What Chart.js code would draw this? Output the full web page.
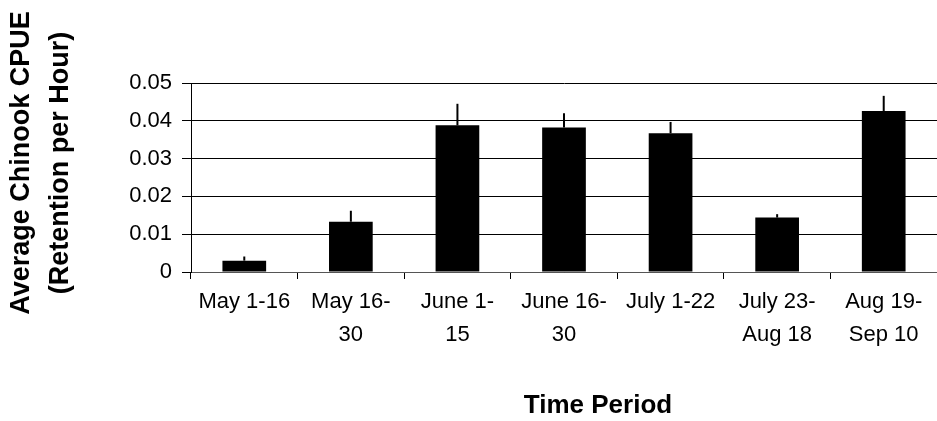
<!DOCTYPE html>
<html>
<head>
<meta charset="utf-8">
<script src="https://cdn.jsdelivr.net/npm/chart.js@4/dist/chart.umd.min.js"></script>
<style>
  body { margin: 0; background: #fff; }
  canvas { display: block; }
</style>
</head>
<body>
<canvas id="chart" width="937" height="421"></canvas>
<script>
// time periods (two-line labels as in the original)
const periods = [["May 1-16"], ["May 16-", "30"], ["June 1-", "15"], ["June 16-", "30"], ["July 1-22"], ["July 23-", "Aug 18"], ["Aug 19-", "Sep 10"]];
const cpue = [0.0030, 0.0133, 0.0388, 0.0382, 0.0367, 0.0144, 0.0426];
const errUp = [0.0011, 0.0029, 0.0057, 0.0038, 0.0030, 0.0009, 0.0040];

const yTitle = ["Average Chinook CPUE", "(Retention per Hour)"];
const xTitle = "Time Period";

const FONT = "'Liberation Sans', Arial, sans-serif";

// upward error bars, no caps
const errorBars = {
    id: 'errorBars',
    afterDatasetsDraw(chart) {
        var ctx = chart.ctx;
        var meta = chart.getDatasetMeta(0);
        var y = chart.scales.y;
        ctx.save();
        ctx.strokeStyle = '#000';
        ctx.lineWidth = 2;
        meta.data.forEach(function (bar, i) {
            var top = y.getPixelForValue(cpue[i] + errUp[i]);
            ctx.beginPath();
            ctx.moveTo(bar.x, bar.y);
            ctx.lineTo(bar.x, top);
            ctx.stroke();
        });
        ctx.restore();
    }
};

// axis titles placed like the original
const titles = {
    id: 'titles',
    afterDraw(chart) {
        var ctx = chart.ctx;
        ctx.save();
        ctx.fillStyle = '#000';
        ctx.font = "bold 26px " + FONT;
        ctx.textAlign = 'center';
        ctx.textBaseline = 'middle';
        ctx.fillText(xTitle, 598, 406);

        ctx.font = "bold 27px " + FONT;
        ctx.translate(0, 163);
        ctx.rotate(-Math.PI / 2);
        ctx.fillText(yTitle[0], 0, 22);
        ctx.fillText(yTitle[1], 0, 61);
        ctx.restore();
    }
};

var myChart = new Chart(document.getElementById("chart"), {
    type: 'bar',
    data: {
        labels: periods,
        datasets: [{
            data: cpue,
            backgroundColor: '#000',
            borderWidth: 0,
            categoryPercentage: 1,
            barPercentage: 0.41
        }]
    },
    options: {
        responsive: false,
        animation: false,
        layout: { padding: { top: 83, left: 0, right: 0, bottom: 0 } },
        plugins: {
            legend: { display: false },
            tooltip: { enabled: false }
        },
        scales: {
            x: {
                afterFit: function (scale) { scale.height = 149; },
                grid: {
                    display: true,
                    drawOnChartArea: false,
                    color: '#000',
                    tickLength: 7
                },
                border: { color: '#555', width: 1 },
                ticks: {
                    color: '#000',
                    font: { family: FONT, size: 22, lineHeight: 1.5 },
                    maxRotation: 0,
                    autoSkip: false,
                    padding: 6
                }
            },
            y: {
                min: 0,
                max: 0.05,
                afterFit: function (scale) { scale.width = 191; },
                grid: {
                    color: '#000',
                    lineWidth: 1,
                    tickLength: 9
                },
                border: { color: '#000', width: 1 },
                ticks: {
                    stepSize: 0.01,
                    color: '#000',
                    padding: 10,
                    font: { family: FONT, size: 22 },
                    callback: function (v) { return v === 0 ? '0' : v.toFixed(2); }
                }
            }
        }
    },
    plugins: [errorBars, titles]
});
</script>
</body>
</html>
